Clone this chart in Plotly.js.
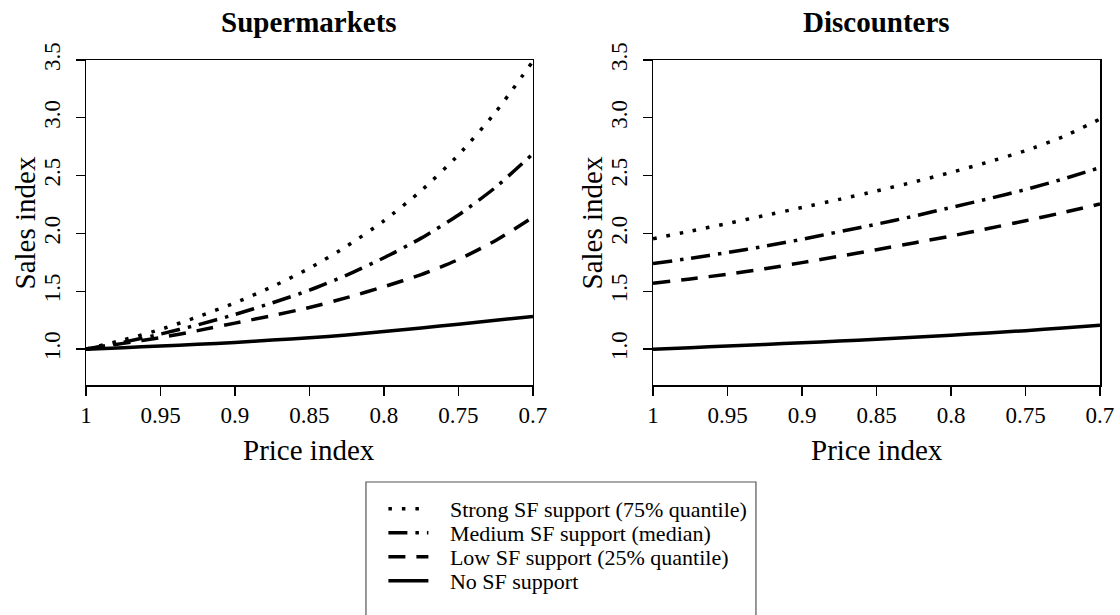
<!DOCTYPE html>
<html>
<head>
<meta charset="utf-8">
<script src="https://cdn.plot.ly/plotly-3.0.1.min.js"></script>
<style>
  html, body { margin: 0; padding: 0; background: #fff; }
  #chart { width: 1120px; height: 615px; }
</style>
</head>
<body>
<div id="chart"></div>
<script>
// Price index grid shared by both panels
const priceIndex = [1.0, 0.975, 0.95, 0.925, 0.9, 0.875, 0.85, 0.825, 0.8, 0.775, 0.75, 0.725, 0.7];

// Supermarkets: sales index by level of SF support
const superStrong = [1.0, 1.08, 1.17, 1.28, 1.40, 1.54, 1.70, 1.89, 2.11, 2.37, 2.68, 3.05, 3.49];
const superMedium = [1.0, 1.06, 1.13, 1.21, 1.30, 1.40, 1.51, 1.64, 1.79, 1.96, 2.16, 2.40, 2.69];
const superLow    = [1.0, 1.05, 1.10, 1.16, 1.225, 1.29, 1.36, 1.445, 1.54, 1.645, 1.775, 1.94, 2.14];
const superNone   = [1.0, 1.013, 1.027, 1.042, 1.058, 1.078, 1.098, 1.122, 1.152, 1.183, 1.216, 1.25, 1.282];

// Discounters: sales index by level of SF support
const discStrong = [1.955, 2.02, 2.087, 2.155, 2.225, 2.295, 2.368, 2.445, 2.528, 2.618, 2.716, 2.835, 2.99];
const discMedium = [1.74, 1.785, 1.835, 1.89, 1.95, 2.015, 2.08, 2.15, 2.225, 2.30, 2.38, 2.47, 2.57];
const discLow    = [1.57, 1.607, 1.648, 1.695, 1.748, 1.803, 1.86, 1.918, 1.978, 2.043, 2.11, 2.18, 2.255];
const discNone   = [1.0, 1.013, 1.027, 1.041, 1.055, 1.07, 1.086, 1.103, 1.121, 1.14, 1.16, 1.183, 1.207];

const seriesNames = [
  'Strong SF support (75% quantile)',
  'Medium SF support (median)',
  'Low SF support (25% quantile)',
  'No SF support'
];
const panelTitles = ['Supermarkets', 'Discounters'];
const xTitle = 'Price index';
const yTitle = 'Sales index';
const xTickVals = [1, 0.95, 0.9, 0.85, 0.8, 0.75, 0.7];
const xTickText = ['1', '0.95', '0.9', '0.85', '0.8', '0.75', '0.7'];
const yTickVals = [1.0, 1.5, 2.0, 2.5, 3.0, 3.5];
const yTickText = ['1.0', '1.5', '2.0', '2.5', '3.0', '3.5'];

const FONT = 'Liberation Serif';
const dashes = ['3.5px,10px', '19px,8px,3.5px,8px', '17px,11px', 'solid'];
const LW = 3.5;
const legendIds = ['legend', 'legend2', 'legend3', 'legend4'];
// gap between the legend key and its label
const LABEL_GAP = '\u00A0\u00A0\u00A0';

function panel(values, xa, ya, showLegend) {
  return values.map((v, i) => ({
    x: priceIndex,
    y: v,
    xaxis: xa,
    yaxis: ya,
    type: 'scatter',
    mode: 'lines',
    name: LABEL_GAP + seriesNames[i],
    legend: legendIds[i],
    showlegend: showLegend,
    line: { color: '#000', width: LW, dash: dashes[i], shape: 'spline', smoothing: 0.6 },
    hoverinfo: 'skip'
  }));
}

const data = [
  ...panel([superStrong, superMedium, superLow, superNone], 'x', 'y', true),
  ...panel([discStrong, discMedium, discLow, discNone], 'x2', 'y2', false)
];

const frame = {
  ticks: 'outside', ticklen: 9, tickwidth: 1.3, tickcolor: '#000',
  showline: true, mirror: true, linecolor: '#000', linewidth: 1.5,
  showgrid: false, zeroline: false,
  tickfont: { family: FONT, size: 23, color: '#000' }
};

function xAxis(domain, anchor) {
  return Object.assign({}, frame, {
    domain: domain, anchor: anchor,
    range: [1, 0.7], autorange: false,
    tickvals: xTickVals, ticktext: xTickText
  });
}
function yAxis(anchor) {
  return Object.assign({}, frame, {
    anchor: anchor, domain: [0, 1],
    range: [0.69, 3.5], autorange: false,
    tickvals: yTickVals, ticktext: yTickText,
    tickangle: -90,
    ticklabelstandoff: 6
  });
}

const xDomains = [[0, 0.4408], [0.5592, 1]];
const titleFont = { family: FONT, size: 29, color: '#000' };

// Panel titles and axis titles
const annotations = [];
panelTitles.forEach((t, i) => {
  const cx = (xDomains[i][0] + xDomains[i][1]) / 2;
  annotations.push({
    text: '<b>' + t + '</b>', xref: 'paper', yref: 'paper',
    x: cx, y: 1.1169, xanchor: 'center', yanchor: 'middle', showarrow: false,
    font: titleFont
  });
  annotations.push({
    text: xTitle, xref: 'paper', yref: 'paper',
    x: cx, y: -0.2, xanchor: 'center', yanchor: 'middle', showarrow: false,
    font: titleFont
  });
  annotations.push({
    text: yTitle, xref: 'paper', yref: 'paper', textangle: -90,
    x: xDomains[i][0] - 0.0602, y: 0.5, xanchor: 'center', yanchor: 'middle', showarrow: false,
    font: titleFont
  });
});

// One legend per row so the row spacing stays tight
const legendRowsY = [-0.3815, -0.4554, -0.5292, -0.6031];
const legendStyle = (y) => ({
  x: 0.2933, y: y, xanchor: 'left', yanchor: 'middle',
  bgcolor: 'rgba(0,0,0,0)', borderwidth: 0,
  font: { family: FONT, size: 22, color: '#000' },
  itemwidth: 40
});

const layout = {
  width: 1120, height: 615,
  margin: { l: 86, r: 20, t: 60, b: 230 },
  paper_bgcolor: '#fff', plot_bgcolor: '#fff',
  font: { family: FONT, color: '#000' },
  xaxis: xAxis(xDomains[0], 'y'),
  yaxis: yAxis('x'),
  xaxis2: xAxis(xDomains[1], 'y2'),
  yaxis2: yAxis('x2'),
  showlegend: true,
  legend: legendStyle(legendRowsY[0]),
  legend2: legendStyle(legendRowsY[1]),
  legend3: legendStyle(legendRowsY[2]),
  legend4: legendStyle(legendRowsY[3]),
  shapes: [{
    type: 'rect', xref: 'paper', yref: 'paper',
    x0: 0.2761, x1: 0.6607, y0: -0.2985, y1: -0.74,
    line: { color: '#555', width: 1.2 }, fillcolor: 'rgba(0,0,0,0)'
  }],
  annotations: annotations
};

Plotly.newPlot('chart', data, layout, { staticPlot: true, displayModeBar: false });
</script>
</body>
</html>
